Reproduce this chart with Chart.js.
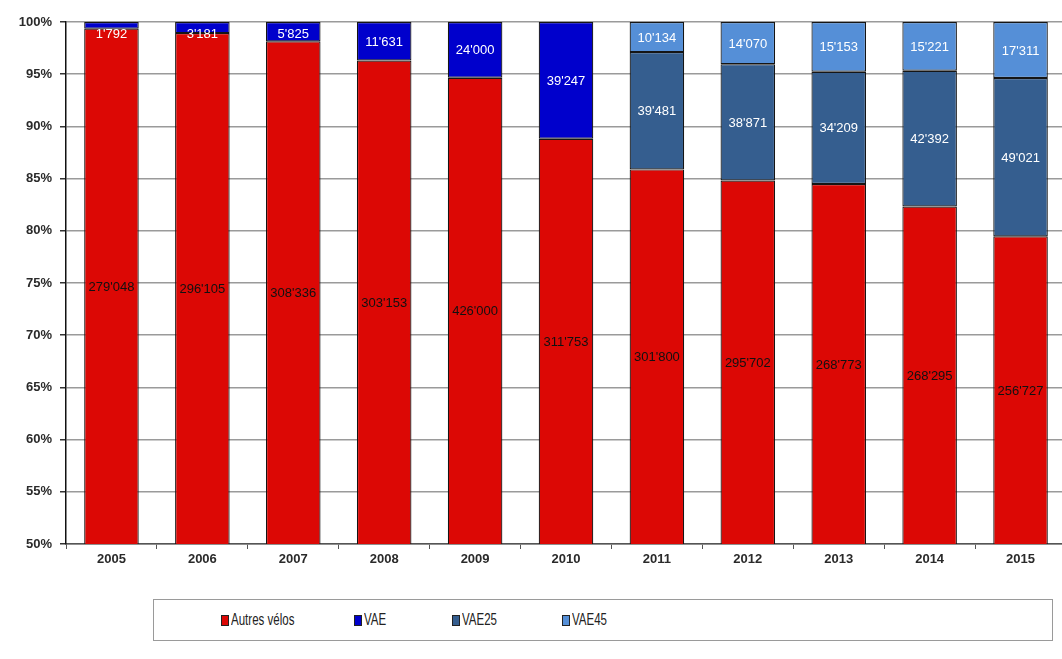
<!DOCTYPE html>
<html>
<head>
<meta charset="utf-8">
<script src="https://cdn.jsdelivr.net/npm/chart.js@4/dist/chart.umd.min.js"></script>
<style>
  html, body { margin: 0; padding: 0; background: #fff; overflow: hidden; }
  #wrap { position: absolute; left: 0; top: 0; width: 1066px; height: 575px; }
  #legend {
    position: absolute; left: 153px; top: 599px; width: 900px; height: 42px;
    border: 1px solid #9a9a9a; box-sizing: border-box;
    font-family: "Liberation Sans", Arial, sans-serif; font-size: 16px; color: #222;
  }
  .item { position: absolute; top: 0; height: 40px; display: flex; align-items: center; white-space: nowrap; }
  .sw { width: 6px; height: 9px; border: 1px solid #222; margin-right: 2px; }
  .txt { display: inline-block; transform: scaleX(0.72); transform-origin: left center; }
</style>
</head>
<body>
<div id="wrap"><canvas id="myChart"></canvas></div>
<div id="legend"></div>
<script>
// Données (nombre de vélos vendus)
const years = ["2005", "2006", "2007", "2008", "2009", "2010", "2011", "2012", "2013", "2014", "2015"];
const autres = [279048, 296105, 308336, 303153, 426000, 311753, 301800, 295702, 268773, 268295, 256727];
const vae = [1792, 3181, 5825, 11631, 24000, 39247, null, null, null, null, null];
const vae25 = [null, null, null, null, null, null, 39481, 38871, 34209, 42392, 49021];
const vae45 = [null, null, null, null, null, null, 10134, 14070, 15153, 15221, 17311];
const seriesNames = ["Autres vélos", "VAE", "VAE25", "VAE45"];
const seriesColors = ["#dc0805", "#0000cc", "#355e8f", "#558fd7"];
const labelColors = ["#111", "#fff", "#fff", "#fff"];

const allSeries = [autres, vae, vae25, vae45];
const totals = years.map((y, i) => allSeries.reduce((s, arr) => s + (arr[i] || 0), 0));
const pct = arr => arr.map((v, i) => v == null ? null : v / totals[i] * 100);

const fmt = v => String(v).replace(/\B(?=(\d{3})+(?!\d))/g, "'");

// Étiquettes dans les barres
const barLabels = {
    id: 'barLabels',
    afterDatasetsDraw(chart) {
        const ctx = chart.ctx;
        const area = chart.chartArea;
        ctx.save();
        ctx.font = '13px "Liberation Sans", Arial, sans-serif';
        ctx.textAlign = 'center';
        ctx.textBaseline = 'middle';
        chart.data.datasets.forEach((ds, di) => {
            const meta = chart.getDatasetMeta(di);
            ctx.fillStyle = labelColors[di];
            meta.data.forEach((bar, i) => {
                const v = ds.counts[i];
                if (v == null) return;
                const top = Math.max(bar.y, area.top);
                const bottom = Math.min(bar.base, area.bottom);
                let y = (top + bottom) / 2 + 1;
                if (y < top + 12) y = top + 12;
                ctx.fillText(fmt(v), bar.x, y);
            });
        });
        ctx.restore();
    }
};

const data = {
    labels: years,
    datasets: allSeries.map((arr, k) => ({
        label: seriesNames[k],
        data: pct(arr),
        counts: arr,
        backgroundColor: seriesColors[k],
        borderColor: "#151515",
        borderWidth: 1.2,
        borderSkipped: false,
        categoryPercentage: 1,
        barPercentage: 0.6,
    })),
};

const config = {
    type: "bar",
    data: data,
    plugins: [barLabels],
    options: {
        responsive: true,
        maintainAspectRatio: false,
        animation: false,
        layout: { padding: { top: 22, right: 0, bottom: 0, left: 0 } },
        plugins: {
            legend: { display: false },
            tooltip: { enabled: false },
        },
        scales: {
            x: {
                stacked: true,
                afterFit(scale) { scale.height = 31; },
                grid: { drawOnChartArea: false, drawTicks: true, tickLength: 5, color: '#555', offset: true },
                border: { color: '#555', width: 1.5 },
                ticks: { color: '#2a2a2a', padding: 3, font: { family: '"Liberation Sans", Arial, sans-serif', size: 13, weight: 'bold' } },
            },
            y: {
                stacked: true,
                min: 50,
                max: 100,
                afterFit(scale) { scale.width = 66; },
                ticks: {
                    stepSize: 5,
                    color: '#2a2a2a',
                    padding: 8,
                    font: { family: '"Liberation Sans", Arial, sans-serif', size: 13, weight: 'bold' },
                    callback: v => v + '%',
                },
                grid: { color: '#9a9a9a', lineWidth: 1.5, tickLength: 6, tickColor: '#333' },
                border: { color: '#111', width: 1.5 },
            },
        },
    },
};

// Légende
const legendX = [67, 200, 298, 408];
const legend = document.getElementById('legend');
seriesNames.forEach((name, k) => {
    const it = document.createElement('div');
    it.className = 'item';
    it.style.left = legendX[k] + 'px';
    it.innerHTML = '<span class="sw" style="background:' + seriesColors[k] + '"></span><span class="txt">' + name + '</span>';
    legend.appendChild(it);
});

const ctx = document.getElementById('myChart').getContext('2d');
const myChart = new Chart(ctx, config);
</script>
</body>
</html>
